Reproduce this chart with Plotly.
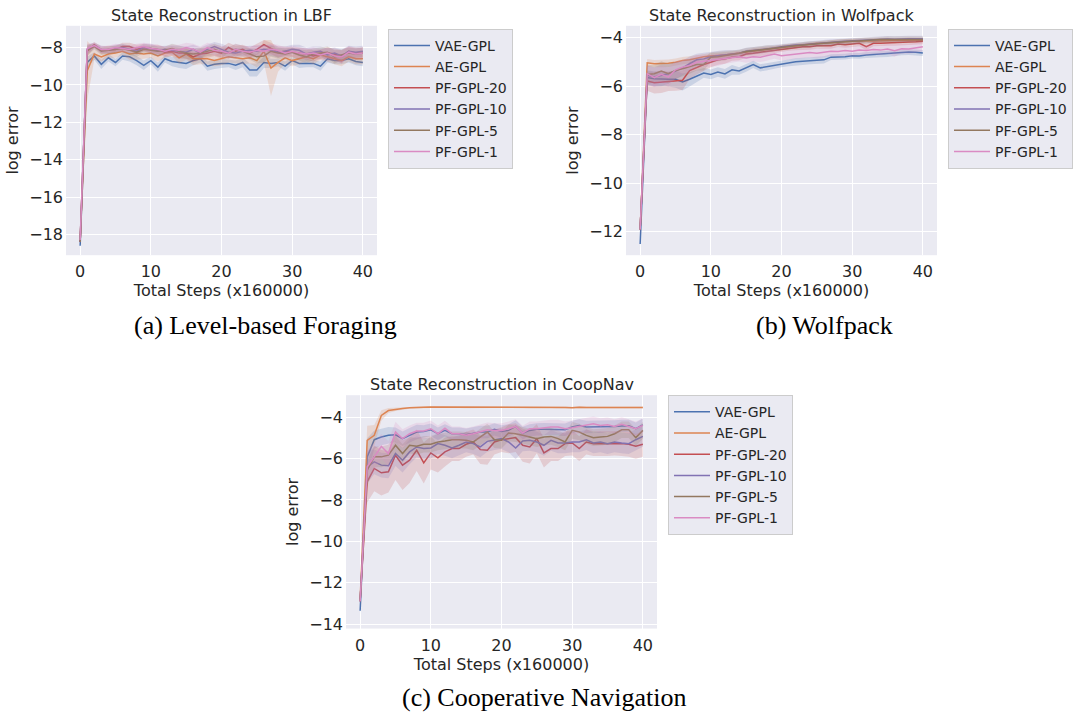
import plotly.graph_objects as go

steps = list(range(41))
series_names = ["VAE-GPL", "AE-GPL", "PF-GPL-20", "PF-GPL-10", "PF-GPL-5", "PF-GPL-1"]
series_colors = ["#4C72B0", "#DD8452", "#C44E52", "#8172B3", "#937860", "#DA8BC3"]
x_ticks = [0, 10, 20, 30, 40]

# ---------------- (a) Level-based Foraging ----------------
lbf_vae = [-18.6, -8.8, -8.45, -8.9, -8.55, -8.8, -8.45, -8.5, -8.7, -8.95, -8.7, -9.05, -8.6, -8.75, -8.8, -8.85, -8.7, -8.6, -9.0, -8.9, -8.85,
           -8.85, -8.95, -8.8, -9.2, -9.2, -8.8, -8.85, -8.8, -9.0, -8.7, -8.85, -8.85, -8.85, -9.0, -8.6, -8.7, -8.7, -8.6, -8.75, -8.8]
lbf_ae = [-18.4, -9.25, -8.35, -8.5, -8.35, -8.3, -8.2, -8.35, -8.3, -8.35, -8.3, -8.45, -8.3, -8.25, -8.55, -8.35, -8.6, -8.6, -8.6, -8.7, -8.6,
          -8.5, -8.55, -8.6, -8.55, -8.7, -8.2, -9.1, -8.8, -8.55, -8.7, -8.6, -8.5, -8.6, -8.4, -8.5, -8.6, -8.7, -8.5, -8.6, -8.6]
lbf_pf20 = [-18.4, -8.2, -7.85, -8.15, -8.1, -8.1, -7.95, -7.95, -8.1, -8.0, -8.05, -8.1, -8.25, -8.2, -8.3, -8.3, -8.5, -8.35, -8.3, -8.2, -8.3,
            -8.0, -8.2, -8.1, -8.3, -8.1, -7.85, -8.05, -8.25, -8.2, -8.25, -8.3, -8.35, -8.45, -8.35, -8.3, -8.35, -8.5, -8.2, -8.3, -8.3]
lbf_pf10 = [-18.4, -8.1, -7.9, -8.1, -8.15, -8.05, -8.0, -8.1, -8.2, -8.0, -8.05, -8.2, -8.1, -8.15, -8.2, -8.25, -8.1, -8.3, -8.1, -7.95, -8.1,
            -8.25, -8.3, -8.2, -8.15, -8.2, -8.1, -8.15, -8.25, -8.2, -8.1, -8.15, -8.35, -8.25, -8.2, -8.4, -8.3, -8.45, -8.2, -8.25, -8.2]
lbf_pf5 = [-18.4, -8.15, -7.95, -8.2, -8.15, -8.1, -8.05, -8.15, -8.25, -8.1, -8.15, -8.2, -8.15, -8.05, -8.2, -8.3, -8.35, -8.3, -8.2, -8.1, -8.25,
           -8.3, -8.1, -8.2, -8.35, -8.5, -8.45, -8.2, -8.3, -8.35, -8.25, -8.4, -8.5, -8.35, -8.3, -8.25, -8.5, -8.4, -8.3, -8.35, -8.3]
lbf_pf1 = [-18.3, -8.05, -7.9, -8.1, -8.1, -8.0, -8.05, -8.1, -8.0, -7.95, -8.05, -8.1, -8.2, -8.1, -8.15, -8.0, -8.1, -8.25, -8.0, -8.15, -8.2,
           -8.3, -8.1, -8.2, -8.25, -8.15, -8.2, -8.1, -8.15, -8.3, -8.2, -8.3, -8.35, -8.3, -8.4, -8.3, -8.45, -8.5, -8.25, -8.35, -8.3]

lbf_vae_sd = [0.15, 0.3, 0.2, 0.25, 0.2, 0.2, 0.2, 0.25, 0.25, 0.25, 0.2, 0.25, 0.2, 0.25, 0.3, 0.3, 0.25, 0.2, 0.25, 0.25, 0.25,
              0.2, 0.25, 0.25, 0.35, 0.35, 0.3, 0.25, 0.2, 0.25, 0.2, 0.25, 0.2, 0.2, 0.25, 0.2, 0.2, 0.2, 0.2, 0.2, 0.2]
lbf_ae_sd = [0.15, 1.6, 0.3, 0.25, 0.2, 0.25, 0.2, 0.3, 0.35, 0.25, 0.25, 0.3, 0.25, 0.2, 0.3, 0.3, 0.35, 0.3, 0.3, 0.3, 0.35,
             0.3, 0.3, 0.3, 0.3, 0.35, 0.6, 1.5, 0.5, 0.3, 0.3, 0.3, 0.25, 0.3, 0.25, 0.25, 0.3, 0.3, 0.25, 0.3, 0.3]
lbf_pf20_sd = [0.15, 0.25, 0.15, 0.2, 0.2, 0.2, 0.2, 0.2, 0.25, 0.2, 0.2, 0.25, 0.25, 0.25, 0.3, 0.3, 0.3, 0.3, 0.25, 0.25, 0.3,
               0.25, 0.3, 0.25, 0.3, 0.3, 0.25, 0.3, 0.3, 0.25, 0.25, 0.3, 0.3, 0.3, 0.25, 0.3, 0.3, 0.35, 0.25, 0.3, 0.3]
lbf_pf10_sd = [0.15, 0.25, 0.15, 0.2, 0.2, 0.2, 0.2, 0.2, 0.2, 0.2, 0.25, 0.25, 0.2, 0.25, 0.3, 0.3, 0.25, 0.3, 0.25, 0.25, 0.3,
               0.3, 0.3, 0.25, 0.25, 0.3, 0.25, 0.3, 0.3, 0.25, 0.25, 0.3, 0.35, 0.3, 0.25, 0.35, 0.3, 0.35, 0.3, 0.3, 0.3]
lbf_pf5_sd = [0.15, 0.3, 0.15, 0.2, 0.2, 0.2, 0.2, 0.25, 0.25, 0.2, 0.25, 0.25, 0.2, 0.25, 0.3, 0.3, 0.3, 0.3, 0.25, 0.3, 0.3,
              0.3, 0.3, 0.3, 0.3, 0.35, 0.35, 0.3, 0.3, 0.3, 0.25, 0.3, 0.35, 0.3, 0.3, 0.3, 0.35, 0.3, 0.3, 0.3, 0.3]
lbf_pf1_sd = [0.15, 0.25, 0.15, 0.2, 0.2, 0.2, 0.2, 0.2, 0.2, 0.2, 0.25, 0.25, 0.25, 0.25, 0.3, 0.25, 0.3, 0.3, 0.25, 0.3, 0.3,
              0.3, 0.3, 0.3, 0.3, 0.3, 0.3, 0.3, 0.3, 0.3, 0.3, 0.3, 0.3, 0.3, 0.3, 0.3, 0.3, 0.35, 0.3, 0.3, 0.3]

# ---------------- (b) Wolfpack ----------------
wolf_vae = [-12.5, -5.65, -5.7, -5.72, -5.72, -5.72, -5.83, -5.72, -5.6, -5.46, -5.52, -5.42, -5.5, -5.33, -5.38, -5.26, -5.11, -5.25, -5.2, -5.15, -5.08,
            -5.03, -5.0, -4.98, -4.95, -4.92, -4.92, -4.81, -4.81, -4.79, -4.75, -4.76, -4.72, -4.7, -4.69, -4.68, -4.65, -4.61, -4.6, -4.61, -4.64]
wolf_ae = [-11.9, -5.04, -5.08, -5.08, -5.06, -5.02, -4.95, -4.92, -4.84, -4.79, -4.76, -4.75, -4.72, -4.68, -4.64, -4.61, -4.54, -4.52, -4.47, -4.45, -4.41,
           -4.38, -4.34, -4.31, -4.27, -4.24, -4.23, -4.2, -4.18, -4.17, -4.16, -4.14, -4.14, -4.14, -4.14, -4.11, -4.14, -4.11, -4.1, -4.11, -4.11]
wolf_pf20 = [-11.9, -5.79, -5.86, -5.83, -5.8, -5.79, -5.76, -5.36, -5.22, -5.11, -5.02, -4.92, -4.88, -4.81, -4.79, -4.68, -4.65, -4.61, -4.57, -4.52, -4.47,
             -4.43, -4.41, -4.38, -4.38, -4.34, -4.34, -4.34, -4.27, -4.3, -4.27, -4.24, -4.38, -4.24, -4.24, -4.22, -4.22, -4.2, -4.19, -4.18, -4.16]
wolf_pf10 = [-11.9, -5.56, -5.63, -5.56, -5.49, -5.38, -5.25, -5.08, -4.92, -4.88, -4.79, -4.75, -4.72, -4.68, -4.65, -4.57, -4.54, -4.52, -4.47, -4.43, -4.38,
             -4.34, -4.31, -4.3, -4.27, -4.24, -4.22, -4.19, -4.18, -4.16, -4.14, -4.14, -4.11, -4.11, -4.07, -4.06, -4.07, -4.05, -4.05, -4.05, -4.05]
wolf_pf5 = [-11.9, -5.52, -5.49, -5.38, -5.49, -5.36, -5.29, -5.19, -5.11, -5.11, -4.81, -4.79, -4.75, -4.68, -4.65, -4.58, -4.54, -4.52, -4.47, -4.45, -4.41,
            -4.37, -4.34, -4.31, -4.27, -4.27, -4.24, -4.22, -4.19, -4.18, -4.16, -4.14, -4.11, -4.11, -4.08, -4.08, -4.08, -4.08, -4.08, -4.08, -4.08]
wolf_pf1 = [-11.9, -5.49, -5.65, -5.52, -5.63, -5.33, -5.22, -5.15, -5.02, -4.98, -4.95, -4.92, -4.88, -4.84, -4.79, -4.84, -4.79, -4.81, -4.75, -4.68, -4.75,
            -4.71, -4.68, -4.65, -4.62, -4.65, -4.61, -4.57, -4.58, -4.54, -4.57, -4.52, -4.54, -4.49, -4.52, -4.47, -4.54, -4.46, -4.47, -4.43, -4.38]

wolf_vae_sd = [0.2, 0.3, 0.3, 0.3, 0.3, 0.35, 0.35, 0.3, 0.25, 0.2, 0.2, 0.2, 0.2, 0.2, 0.15, 0.15, 0.15, 0.15, 0.15, 0.15, 0.15,
               0.15, 0.15, 0.15, 0.15, 0.15, 0.15, 0.12, 0.12, 0.12, 0.12, 0.12, 0.12, 0.12, 0.12, 0.12, 0.12, 0.12, 0.12, 0.12, 0.12]
wolf_ae_sd = [0.2, 0.15, 0.15, 0.15, 0.15, 0.15, 0.15, 0.15, 0.12, 0.12, 0.12, 0.12, 0.12, 0.12, 0.12, 0.1, 0.1, 0.1, 0.1, 0.1, 0.1,
              0.1, 0.1, 0.1, 0.1, 0.1, 0.1, 0.1, 0.1, 0.1, 0.1, 0.1, 0.1, 0.1, 0.1, 0.1, 0.1, 0.1, 0.1, 0.1, 0.1]
wolf_pf20_sd = [0.2, 0.4, 0.45, 0.45, 0.4, 0.4, 0.4, 0.35, 0.3, 0.25, 0.2, 0.2, 0.2, 0.15, 0.15, 0.15, 0.15, 0.15, 0.15, 0.12, 0.12,
                0.12, 0.12, 0.12, 0.12, 0.12, 0.12, 0.12, 0.12, 0.12, 0.12, 0.12, 0.15, 0.12, 0.12, 0.12, 0.12, 0.12, 0.12, 0.12, 0.12]
wolf_pf10_sd = [0.2, 0.4, 0.4, 0.45, 0.4, 0.35, 0.3, 0.3, 0.25, 0.25, 0.2, 0.2, 0.2, 0.15, 0.15, 0.15, 0.15, 0.15, 0.15, 0.12, 0.12,
                0.12, 0.12, 0.12, 0.12, 0.12, 0.12, 0.12, 0.12, 0.12, 0.12, 0.12, 0.12, 0.12, 0.12, 0.12, 0.12, 0.12, 0.12, 0.12, 0.12]
wolf_pf5_sd = [0.2, 0.4, 0.35, 0.4, 0.4, 0.35, 0.3, 0.3, 0.25, 0.25, 0.2, 0.2, 0.2, 0.15, 0.15, 0.15, 0.15, 0.15, 0.15, 0.12, 0.12,
               0.12, 0.12, 0.12, 0.12, 0.12, 0.12, 0.12, 0.12, 0.12, 0.12, 0.12, 0.12, 0.12, 0.12, 0.12, 0.12, 0.12, 0.12, 0.12, 0.12]
wolf_pf1_sd = [0.2, 0.35, 0.4, 0.35, 0.4, 0.35, 0.3, 0.3, 0.3, 0.25, 0.25, 0.25, 0.2, 0.2, 0.2, 0.2, 0.2, 0.2, 0.2, 0.2, 0.2,
               0.2, 0.2, 0.2, 0.2, 0.2, 0.2, 0.2, 0.2, 0.2, 0.2, 0.2, 0.2, 0.2, 0.2, 0.2, 0.25, 0.2, 0.2, 0.2, 0.2]

# ---------------- (c) Cooperative Navigation ----------------
coop_vae = [-13.36, -5.92, -5.09, -4.96, -4.88, -4.85, -5.04, -4.88, -4.72, -4.69, -4.61, -4.8, -4.64, -4.8, -4.8, -4.85, -4.8, -4.72, -4.72, -4.59, -4.69,
            -4.64, -4.45, -4.77, -4.64, -4.59, -4.58, -4.58, -4.58, -4.61, -4.48, -4.4, -4.48, -4.48, -4.48, -4.45, -4.45, -4.43, -4.42, -4.56, -4.37]
coop_ae = [-12.8, -5.12, -4.88, -3.92, -3.68, -3.62, -3.58, -3.55, -3.52, -3.52, -3.51, -3.51, -3.51, -3.52, -3.51, -3.52, -3.51, -3.52, -3.52, -3.51, -3.51,
           -3.51, -3.5, -3.51, -3.52, -3.52, -3.52, -3.51, -3.52, -3.53, -3.55, -3.52, -3.53, -3.53, -3.54, -3.54, -3.54, -3.54, -3.53, -3.53, -3.53]
coop_pf20 = [-12.9, -7.12, -6.48, -6.69, -6.64, -5.84, -6.32, -6.08, -5.6, -6.21, -5.73, -5.97, -5.68, -5.52, -5.52, -5.31, -5.2, -5.57, -5.6, -5.2, -5.09,
             -5.04, -4.99, -5.36, -5.44, -5.04, -5.73, -5.52, -5.52, -5.28, -5.25, -5.52, -5.2, -5.28, -5.28, -5.28, -5.25, -5.28, -5.31, -5.41, -5.31]
coop_pf10 = [-12.9, -6.4, -6.16, -6.32, -6.35, -5.76, -6.08, -5.68, -5.44, -5.52, -5.49, -5.28, -5.36, -5.49, -5.36, -5.2, -5.28, -5.44, -5.17, -5.09, -5.04,
             -5.2, -5.49, -5.15, -5.12, -5.2, -5.36, -5.12, -5.25, -5.25, -5.2, -5.2, -5.09, -5.25, -5.2, -5.28, -5.2, -5.25, -5.28, -5.09, -4.93]
coop_pf5 = [-12.9, -6.56, -5.92, -5.92, -5.84, -5.36, -5.76, -5.36, -5.41, -5.31, -5.31, -5.2, -5.15, -5.09, -5.09, -5.12, -5.2, -4.96, -4.72, -5.09, -5.12,
            -4.77, -4.8, -4.88, -4.96, -5.04, -4.96, -4.93, -5.04, -5.2, -4.64, -4.72, -4.88, -4.99, -4.96, -4.93, -4.8, -4.61, -4.61, -4.99, -4.64]
coop_pf1 = [-12.9, -6.4, -5.92, -5.41, -5.76, -4.72, -5.04, -4.8, -4.67, -4.67, -4.56, -4.8, -4.53, -4.8, -4.8, -4.88, -4.8, -4.72, -4.61, -4.64, -4.64,
            -4.56, -4.45, -4.77, -4.56, -4.56, -4.51, -4.48, -4.48, -4.56, -4.51, -4.45, -4.4, -4.32, -4.4, -4.37, -4.45, -4.35, -4.45, -4.56, -4.4]

coop_vae_sd = [0.2, 0.9, 0.45, 0.4, 0.4, 0.35, 0.35, 0.35, 0.35, 0.3, 0.3, 0.3, 0.3, 0.3, 0.3, 0.3, 0.3, 0.3, 0.3, 0.3, 0.3,
               0.3, 0.3, 0.3, 0.3, 0.3, 0.3, 0.3, 0.3, 0.3, 0.3, 0.3, 0.3, 0.3, 0.3, 0.3, 0.3, 0.3, 0.3, 0.3, 0.3]
coop_ae_sd = [0.2, 0.7, 0.5, 0.25, 0.12, 0.08, 0.06, 0.05, 0.05, 0.05, 0.05, 0.05, 0.05, 0.05, 0.05, 0.05, 0.05, 0.05, 0.05, 0.05, 0.05,
              0.05, 0.05, 0.05, 0.05, 0.05, 0.05, 0.05, 0.05, 0.05, 0.05, 0.05, 0.05, 0.05, 0.05, 0.05, 0.05, 0.05, 0.05, 0.05, 0.05]
coop_pf20_sd = [0.2, 1.0, 1.1, 1.1, 1.0, 1.2, 1.2, 1.1, 1.0, 1.0, 0.8, 0.7, 0.7, 0.6, 0.6, 0.6, 0.6, 0.7, 0.7, 0.6, 0.6,
                0.7, 0.7, 0.8, 0.8, 0.7, 0.7, 0.6, 0.6, 0.6, 0.6, 0.6, 0.6, 0.6, 0.6, 0.6, 0.6, 0.6, 0.6, 0.6, 0.6]
coop_pf10_sd = [0.2, 0.8, 0.6, 0.6, 0.6, 0.6, 0.6, 0.6, 0.5, 0.5, 0.5, 0.5, 0.5, 0.5, 0.5, 0.5, 0.5, 0.5, 0.5, 0.5, 0.5,
                0.5, 0.55, 0.5, 0.5, 0.5, 0.5, 0.5, 0.5, 0.5, 0.5, 0.5, 0.5, 0.5, 0.5, 0.5, 0.5, 0.5, 0.5, 0.5, 0.5]
coop_pf5_sd = [0.2, 0.8, 0.5, 0.5, 0.5, 0.45, 0.45, 0.4, 0.4, 0.4, 0.4, 0.4, 0.4, 0.4, 0.4, 0.4, 0.4, 0.4, 0.4, 0.4, 0.4,
               0.4, 0.4, 0.4, 0.4, 0.4, 0.4, 0.4, 0.4, 0.4, 0.4, 0.4, 0.4, 0.4, 0.4, 0.4, 0.4, 0.4, 0.4, 0.4, 0.4]
coop_pf1_sd = [0.2, 0.8, 0.7, 0.6, 0.6, 0.5, 0.45, 0.4, 0.4, 0.4, 0.4, 0.4, 0.35, 0.35, 0.35, 0.35, 0.35, 0.35, 0.35, 0.35, 0.35,
               0.35, 0.35, 0.35, 0.35, 0.35, 0.35, 0.35, 0.35, 0.35, 0.35, 0.35, 0.35, 0.35, 0.35, 0.35, 0.35, 0.35, 0.35, 0.35, 0.35]

panel_titles = ["State Reconstruction in LBF", "State Reconstruction in Wolfpack", "State Reconstruction in CoopNav"]
captions = ["(a) Level-based Foraging", "(b) Wolfpack", "(c) Cooperative Navigation"]

# the page body margin is removed in post_script, so the figure fills the window
W, H = 1073, 715


def fx(px):
    return px / W


def fy(py):
    return 1 - py / H


panels = [
    dict(means=[lbf_vae, lbf_ae, lbf_pf20, lbf_pf10, lbf_pf5, lbf_pf1],
         sds=[lbf_vae_sd, lbf_ae_sd, lbf_pf20_sd, lbf_pf10_sd, lbf_pf5_sd, lbf_pf1_sd],
         ax="", leg="legend", yticks=[-8, -10, -12, -14, -16, -18], yrange=[-19.11, -6.84],
         xdom=[fx(66), fx(377)], ydom=[fy(257), fy(26)], legpos=(fx(388), fy(29))),
    dict(means=[wolf_vae, wolf_ae, wolf_pf20, wolf_pf10, wolf_pf5, wolf_pf1],
         sds=[wolf_vae_sd, wolf_ae_sd, wolf_pf20_sd, wolf_pf10_sd, wolf_pf5_sd, wolf_pf1_sd],
         ax="2", leg="legend2", yticks=[-4, -6, -8, -10, -12], yrange=[-12.96, -3.52],
         xdom=[fx(626), fx(937)], ydom=[fy(257), fy(26)], legpos=(fx(948), fy(29))),
    dict(means=[coop_vae, coop_ae, coop_pf20, coop_pf10, coop_pf5, coop_pf1],
         sds=[coop_vae_sd, coop_ae_sd, coop_pf20_sd, coop_pf10_sd, coop_pf5_sd, coop_pf1_sd],
         ax="3", leg="legend3", yticks=[-4, -6, -8, -10, -12, -14], yrange=[-14.22, -2.94],
         xdom=[fx(346), fx(657)], ydom=[fy(633), fy(398)], legpos=(fx(668), fy(398))),
]


def rgba(hexc, a):
    h = hexc.lstrip("#")
    return "rgba(%d,%d,%d,%s)" % (int(h[0:2], 16), int(h[2:4], 16), int(h[4:6], 16), a)


fig = go.Figure()
for p in panels:
    xa = "x" + p["ax"]
    ya = "y" + p["ax"]
    for name, color, m, s in zip(series_names, series_colors, p["means"], p["sds"]):
        upper = [a + b for a, b in zip(m, s)]
        lower = [a - b for a, b in zip(m, s)]
        fig.add_trace(go.Scatter(x=steps + steps[::-1], y=upper + lower[::-1], fill="toself",
                                 fillcolor=rgba(color, 0.2), line=dict(width=0), mode="lines",
                                 hoverinfo="skip", showlegend=False, xaxis=xa, yaxis=ya))
        fig.add_trace(go.Scatter(x=steps, y=m, mode="lines", name=name,
                                 line=dict(color=color, width=1.5), xaxis=xa, yaxis=ya,
                                 legend=p["leg"]))

text_col = "#262626"
layout = dict(width=W, height=H, autosize=False, margin=dict(l=0, r=0, t=0, b=0),
              paper_bgcolor="white", plot_bgcolor="#EAEAF2",
              font=dict(family="DejaVu Sans", size=16, color=text_col))

annotations = []
for i, p in enumerate(panels):
    key = p["ax"]
    layout["xaxis" + key] = dict(domain=p["xdom"], range=[-2, 42], tickvals=x_ticks, showgrid=True,
                                 gridcolor="white", gridwidth=1, zeroline=False, showline=False,
                                 ticks="", anchor="y" + key, ticklabelstandoff=5,
                                 title=dict(text="Total Steps (x160000)", font=dict(size=16), standoff=1),
                                 tickfont=dict(size=16))
    layout["yaxis" + key] = dict(domain=p["ydom"], range=p["yrange"], tickvals=p["yticks"], showgrid=True,
                                 gridcolor="white", gridwidth=1, zeroline=False, showline=False,
                                 ticks="", anchor="x" + key, ticklabelstandoff=2,
                                 title=dict(text="log error", font=dict(size=16), standoff=6),
                                 tickfont=dict(size=16))
    lx, ly = p["legpos"]
    layout[p["leg"]] = dict(x=lx, y=ly, xanchor="left", yanchor="top", bgcolor="#EAEAF2",
                            bordercolor="#CCCCCC", borderwidth=1, font=dict(size=14, color=text_col),
                            itemwidth=36)
    xc = (p["xdom"][0] + p["xdom"][1]) / 2
    annotations.append(dict(text=panel_titles[i], x=xc, y=p["ydom"][1], xref="paper", yref="paper",
                            xanchor="center", yanchor="bottom", showarrow=False, yshift=-1,
                            font=dict(size=16, color=text_col)))

cap_pos = [(265, 328), (824, 328), (544, 702)]
for cap, (cx, cy) in zip(captions, cap_pos):
    annotations.append(dict(text=cap, x=fx(cx), y=fy(cy), xref="paper", yref="paper",
                            xanchor="center", yanchor="middle", showarrow=False,
                            font=dict(family="Liberation Serif", size=26, color="black")))
layout["annotations"] = annotations

fig.update_layout(**layout)
fig.write_html("out.html", config={"displayModeBar": False},
               post_script="document.body.style.margin='0';document.body.style.overflow='hidden';")
